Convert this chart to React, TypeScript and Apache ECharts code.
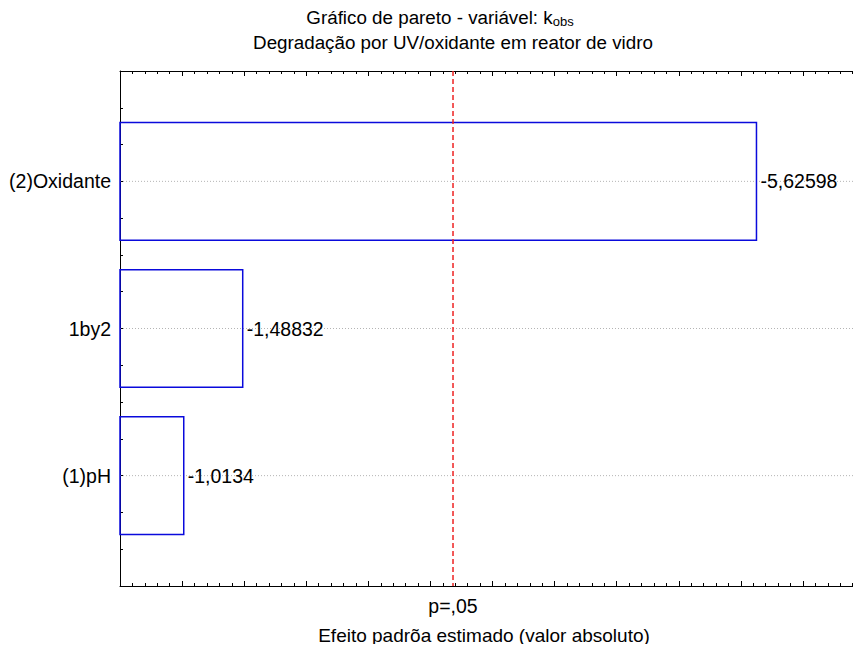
import React, { useEffect, useRef } from "react";
import * as echarts from "echarts";

// Pareto chart of standardized effects (k_obs)
const categories = ["(1)pH", "1by2", "(2)Oxidante"];
const effects = [-1.0134, -1.48832, -5.62598];
const pLimit = 3.182; // critical t for p = .05
const pLabel = "p=,05";
const titleLine1 = "Gráfico de pareto - variável: k{sub|obs}";
const titleLine2 = "Degradação por UV/oxidante em reator de vidro";
const xAxisTitle = "Efeito padrõa estimado (valor absoluto)";

const X_MIN = 0.5;
const X_MAX = 6.5;
const Y_MIN = 0.25;
const Y_MAX = 3.75;
const FONT = "'Liberation Sans', Arial, Helvetica, sans-serif";
const FS_TITLE = 18.8;
const FS_LABEL = 19.5;

// the plot frame runs slightly past the right edge of the visible page
const CHART_W = 866;
const CHART_H = 652;

export default function App() {
  const ref = useRef<HTMLDivElement>(null);

  useEffect(() => {
    if (!ref.current) return;
    const chart = echarts.init(ref.current, undefined, { renderer: "svg" });

    const data = effects.map((e, i) => [Math.abs(e), i + 1]);
    const gridRows = categories.map((_, i) => [i + 1]);
    const fmt = (v: number) => String(v).replace(".", ",");

    const xAxisCommon = {
      type: "value" as const,
      min: X_MIN,
      max: X_MAX,
      interval: 0.5,
      axisLine: { show: true, onZero: false, lineStyle: { color: "#000", width: 1 } },
      axisTick: { show: true, inside: true, length: 5, lineStyle: { color: "#000" } },
      minorTick: { show: true, splitNumber: 5, length: 3, lineStyle: { color: "#000" } },
      axisLabel: { show: false },
      splitLine: { show: false },
    };

    const titleStyle = { fontFamily: FONT, fontSize: FS_TITLE, fontWeight: "normal", color: "#000" };

    chart.setOption({
      animation: false,
      backgroundColor: "#fff",
      textStyle: { fontFamily: FONT },
      title: [
        {
          text: titleLine1,
          left: 440,
          top: 7,
          padding: 0,
          textAlign: "center",
          textStyle: {
            ...titleStyle,
            rich: {
              sub: { fontFamily: FONT, fontSize: 13, verticalAlign: "bottom", padding: [8, 0, 0, 0], color: "#000" },
            },
          },
        },
        { text: titleLine2, left: 453, top: 33, padding: 0, textAlign: "center", textStyle: titleStyle },
        {
          text: xAxisTitle,
          left: 484,
          top: 626,
          padding: 0,
          textAlign: "center",
          textStyle: { ...titleStyle, fontSize: FS_TITLE + 0.2 },
        },
      ],
      grid: { left: 120, top: 71, right: 1, bottom: 66, containLabel: false },
      xAxis: [
        { ...xAxisCommon, position: "bottom" },
        { ...xAxisCommon, position: "top" },
      ],
      yAxis: {
        type: "value",
        min: Y_MIN,
        max: Y_MAX,
        interval: 0.25,
        axisLine: { show: true, onZero: false, lineStyle: { color: "#000", width: 1 } },
        axisTick: { show: true, inside: true, length: 3, lineStyle: { color: "#000" } },
        axisLabel: {
          show: true,
          margin: 9,
          fontFamily: FONT,
          fontSize: FS_LABEL,
          color: "#000",
          formatter: (v: number) => {
            const r = Math.round(v);
            return Math.abs(v - r) < 1e-6 && r >= 1 && r <= categories.length ? categories[r - 1] : "";
          },
        },
        splitLine: { show: false },
      },
      series: [
        {
          // dotted guide line through each effect row
          type: "custom",
          silent: true,
          data: gridRows,
          encode: { y: 0 },
          renderItem: (_params: any, api: any) => {
            const y = api.value(0);
            const a = api.coord([X_MIN, y]);
            const b = api.coord([X_MAX, y]);
            return {
              type: "line",
              shape: { x1: a[0], y1: a[1], x2: b[0], y2: b[1] },
              style: { stroke: "#b4b4b4", lineWidth: 1, lineDash: [1, 2] },
            };
          },
        },
        {
          // effect bars (absolute value) with signed value labels
          type: "custom",
          data,
          encode: { x: 0, y: 1 },
          renderItem: (params: any, api: any) => {
            const v = api.value(0);
            const y = api.value(1);
            const p0 = api.coord([X_MIN, y + 0.4]);
            const p1 = api.coord([v, y - 0.4]);
            return {
              type: "group",
              children: [
                {
                  type: "rect",
                  shape: { x: p0[0], y: p0[1], width: p1[0] - p0[0], height: p1[1] - p0[1] },
                  style: { fill: "none", stroke: "#0a0adc", lineWidth: 1.5 },
                },
                {
                  type: "text",
                  x: p1[0] + 4,
                  y: (p0[1] + p1[1]) / 2,
                  style: {
                    text: fmt(effects[params.dataIndex]),
                    fontFamily: FONT,
                    fontSize: FS_LABEL,
                    fill: "#000",
                    align: "left",
                    verticalAlign: "middle",
                  },
                },
              ],
            };
          },
        },
        {
          // significance limit at p = .05
          type: "custom",
          silent: true,
          data: [[pLimit]],
          encode: { x: 0 },
          renderItem: (_params: any, api: any) => {
            const top = api.coord([api.value(0), Y_MAX]);
            const bottom = api.coord([api.value(0), Y_MIN]);
            return {
              type: "group",
              children: [
                {
                  type: "line",
                  shape: { x1: top[0], y1: top[1], x2: bottom[0], y2: bottom[1] },
                  style: { stroke: "#ee2222", lineWidth: 1.5, lineDash: [5, 3] },
                },
                {
                  type: "text",
                  x: bottom[0],
                  y: bottom[1] + 10,
                  style: {
                    text: pLabel,
                    fontFamily: FONT,
                    fontSize: FS_LABEL,
                    fill: "#000",
                    align: "center",
                    verticalAlign: "top",
                  },
                },
              ],
            };
          },
        },
      ],
    });

    return () => chart.dispose();
  }, []);

  return (
    <div style={{ width: 861, height: CHART_H, margin: -8, overflow: "hidden" }}>
      <div ref={ref} style={{ width: CHART_W, height: CHART_H }} />
    </div>
  );
}
